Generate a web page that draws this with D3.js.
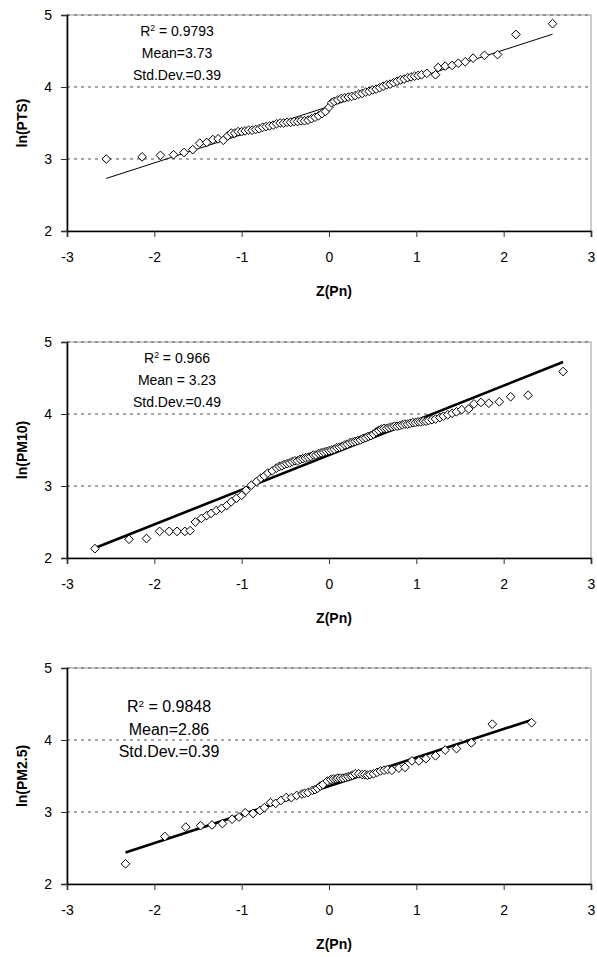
<!DOCTYPE html>
<html>
<head>
<meta charset="utf-8">
<script src="https://cdn.jsdelivr.net/npm/d3@7/dist/d3.min.js"></script>
<style>
  html, body { margin: 0; padding: 0; background: #fff; }
  svg { display: block; font-family: "Liberation Sans", Arial, sans-serif; }
</style>
</head>
<body>
<svg id="chart" width="597" height="957"></svg>
<script>
// ---------- data ----------
const xTicks = [-3, -2, -1, 0, 1, 2, 3];
const yTicks = [2, 3, 4, 5];
const xTitle = "Z(Pn)";
const yTitles = ["ln(PTS)", "ln(PM10)", "ln(PM2.5)"];

const ptsZ = [-2.55, -2.14, -1.93, -1.78, -1.66, -1.56, -1.48, -1.40, -1.33, -1.27, -1.21, -1.16, -1.12,
  -1.08, -1.04, -1.00, -0.96, -0.92, -0.88, -0.84, -0.80, -0.76, -0.72, -0.68, -0.64, -0.60, -0.56, -0.52, -0.48,
  -0.44, -0.40, -0.36, -0.32, -0.28, -0.24, -0.20, -0.16, -0.12, -0.08, -0.04,
  0.00, 0.03, 0.06, 0.10, 0.14, 0.18, 0.22, 0.26, 0.30, 0.34, 0.38, 0.42, 0.46, 0.50, 0.54, 0.58, 0.62, 0.66,
  0.70, 0.74, 0.78, 0.82, 0.86, 0.90, 0.94, 0.98, 1.02, 1.06,
  1.12, 1.22, 1.25, 1.33, 1.41, 1.48, 1.56, 1.65, 1.78, 1.93, 2.14, 2.56];
const ptsV = [3.00, 3.03, 3.05, 3.06, 3.09, 3.13, 3.22, 3.23, 3.27, 3.28, 3.26, 3.32, 3.36,
  3.36, 3.38, 3.38, 3.39, 3.40, 3.40, 3.41, 3.42, 3.44, 3.45, 3.46, 3.47, 3.49, 3.50, 3.50, 3.51,
  3.51, 3.52, 3.52, 3.53, 3.53, 3.54, 3.56, 3.58, 3.60, 3.63, 3.66,
  3.72, 3.78, 3.80, 3.82, 3.84, 3.85, 3.86, 3.87, 3.88, 3.90, 3.91, 3.93, 3.94, 3.96, 3.97, 3.99, 4.01, 4.03,
  4.04, 4.06, 4.08, 4.10, 4.11, 4.13, 4.14, 4.15, 4.16, 4.17,
  4.19, 4.17, 4.27, 4.29, 4.30, 4.33, 4.35, 4.40, 4.44, 4.45, 4.73, 4.88];

const pm10Z = [-2.68, -2.29, -2.09, -1.94, -1.83, -1.74, -1.65, -1.59, -1.53, -1.46, -1.40, -1.35, -1.29, -1.23,
  -1.17, -1.12, -1.06, -1.00, -0.95, -0.89, -0.83, -0.78, -0.74, -0.70, -0.65, -0.60,
  -0.57, -0.54, -0.51, -0.48, -0.45, -0.42, -0.39, -0.36, -0.33, -0.30, -0.27, -0.24, -0.21, -0.18, -0.15, -0.12,
  -0.09, -0.06, -0.03, 0.00, 0.03, 0.06, 0.09, 0.12, 0.15, 0.18, 0.21, 0.24, 0.27, 0.30, 0.33, 0.36, 0.39, 0.42,
  0.45, 0.48, 0.51, 0.54, 0.57, 0.60, 0.63, 0.66, 0.69, 0.72, 0.75, 0.78, 0.81, 0.84, 0.87, 0.90, 0.93, 0.96,
  0.99, 1.02, 1.05, 1.08, 1.11, 1.14, 1.18,
  1.22, 1.27, 1.31, 1.36, 1.41, 1.46, 1.52, 1.60, 1.66, 1.74, 1.83, 1.95, 2.08, 2.28, 2.68];
const pm10V = [2.13, 2.26, 2.27, 2.37, 2.37, 2.37, 2.37, 2.38, 2.50, 2.55, 2.59, 2.62, 2.66, 2.69,
  2.73, 2.78, 2.83, 2.87, 2.94, 3.01, 3.06, 3.11, 3.14, 3.18, 3.21, 3.25,
  3.27, 3.28, 3.30, 3.31, 3.32, 3.34, 3.35, 3.35, 3.37, 3.38, 3.39, 3.40, 3.41, 3.43, 3.43, 3.45,
  3.46, 3.47, 3.48, 3.49, 3.50, 3.51, 3.53, 3.54, 3.55, 3.57, 3.58, 3.60, 3.61, 3.62, 3.63, 3.64, 3.66, 3.67,
  3.69, 3.70, 3.72, 3.75, 3.77, 3.79, 3.80, 3.80, 3.81, 3.82, 3.83, 3.83, 3.84, 3.85, 3.86, 3.86, 3.87, 3.88,
  3.88, 3.89, 3.89, 3.90, 3.90, 3.91, 3.92,
  3.93, 3.95, 3.97, 3.99, 4.01, 4.03, 4.06, 4.07, 4.14, 4.16, 4.15, 4.17, 4.24, 4.26, 4.59];

const pm25Z = [-2.33, -1.88, -1.64, -1.47, -1.34, -1.22, -1.11, -1.03, -0.96, -0.87, -0.79, -0.74, -0.67, -0.61,
  -0.55, -0.49, -0.43, -0.37, -0.31, -0.28, -0.24, -0.19, -0.16, -0.13, -0.10, -0.07, -0.02, 0.02, 0.05, 0.08,
  0.10, 0.13, 0.16, 0.19, 0.22, 0.25, 0.27, 0.30, 0.34, 0.38, 0.41, 0.44, 0.47, 0.51, 0.55, 0.59, 0.63, 0.67,
  0.72, 0.80, 0.87, 0.95, 1.03, 1.11, 1.22, 1.33, 1.46, 1.63, 1.87, 2.32];
const pm25V = [2.28, 2.66, 2.79, 2.81, 2.82, 2.84, 2.90, 2.93, 2.99, 2.98, 3.02, 3.06, 3.13, 3.12,
  3.16, 3.20, 3.20, 3.23, 3.25, 3.26, 3.27, 3.30, 3.31, 3.33, 3.36, 3.38, 3.43, 3.45, 3.46, 3.46,
  3.47, 3.47, 3.47, 3.48, 3.49, 3.50, 3.51, 3.53, 3.53, 3.52, 3.52, 3.51, 3.52, 3.53, 3.55, 3.57, 3.58, 3.59,
  3.58, 3.61, 3.62, 3.71, 3.71, 3.74, 3.78, 3.86, 3.88, 3.96, 4.22, 4.24];

// fitted trend lines (value = intercept + slope * z)
const trendIntercept = [3.73, 3.43, 3.36];
const trendSlope = [0.392, 0.482, 0.396];

const r2Text = ["0.9793", "0.966", "0.9848"];
const meanText = ["Mean=3.73", "Mean = 3.23", "Mean=2.86"];
const stdText = ["Std.Dev.=0.39", "Std.Dev.=0.49", "Std.Dev.=0.39"];

// ---------- layout ----------
const panelTops = [15, 342, 668];
const plotH = 216;
const plotLeft = 67, plotRight = 591;
const lineWidths = [1, 2.6, 2.6];
const annoX = [177, 177, 169];
const annoFont = [14, 14, 16];
const annoStep = [22, 22, 22.5];
const annoFirst = [21, 21, 44];

const series = [[ptsZ, ptsV], [pm10Z, pm10V], [pm25Z, pm25V]];

const svg = d3.select("#chart");
const x = d3.scaleLinear().domain([-3, 3]).range([plotLeft, plotRight]);

series.forEach((s, i) => {
  const top = panelTops[i];
  const y = d3.scaleLinear().domain([2, 5]).range([top + plotH, top]);
  const g = svg.append("g");

  // plot border (light)
  g.append("rect")
    .attr("x", plotLeft).attr("y", top)
    .attr("width", plotRight - plotLeft).attr("height", plotH)
    .attr("fill", "none").attr("stroke", "#9a9a9a").attr("stroke-width", 1);

  // dashed gridlines
  g.selectAll("line.grid").data(yTicks.filter(t => t > 2)).enter().append("line")
    .attr("class", "grid")
    .attr("x1", plotLeft).attr("x2", plotRight)
    .attr("y1", d => y(d)).attr("y2", d => y(d))
    .attr("stroke", "#555").attr("stroke-width", 1.2)
    .attr("stroke-dasharray", "3,4");

  // trend line
  const zs = s[0];
  const zMin = d3.min(zs), zMax = d3.max(zs);
  g.append("line")
    .attr("x1", x(zMin)).attr("y1", y(trendIntercept[i] + trendSlope[i] * zMin))
    .attr("x2", x(zMax)).attr("y2", y(trendIntercept[i] + trendSlope[i] * zMax))
    .attr("stroke", "#000").attr("stroke-width", lineWidths[i]);

  // diamond markers
  const pts = zs.map((z, k) => ({ z: z, v: s[1][k] }));
  const sym = d3.symbol().type(d3.symbolDiamond2).size(48);
  g.selectAll("path.pt").data(pts).enter().append("path")
    .attr("class", "pt")
    .attr("d", sym)
    .attr("transform", d => `translate(${x(d.z)},${y(d.v)})`)
    .attr("fill", "#fff").attr("stroke", "#000").attr("stroke-width", 1);

  // axes
  const yAxis = d3.axisLeft(y).tickValues(yTicks).tickSize(6).tickPadding(9).tickFormat(d3.format("d"));
  const ya = g.append("g").attr("transform", `translate(${plotLeft},0)`).call(yAxis);
  const xAxis = d3.axisBottom(x).tickValues(xTicks).tickSize(6).tickPadding(15).tickFormat(d3.format("d"));
  const xa = g.append("g").attr("transform", `translate(0,${top + plotH})`).call(xAxis);
  [ya, xa].forEach(a => {
    a.select(".domain").attr("stroke", "#000").attr("stroke-width", 1.6);
    a.selectAll(".tick line").attr("stroke", "#333").attr("stroke-width", 1);
    a.selectAll(".tick text").attr("fill", "#000").style("font-size", "14px")
      .style("font-family", "'Liberation Sans', Arial, sans-serif");
  });
  xa.selectAll(".tick text").text(d => d < 0 ? "-" + Math.abs(d) : String(d));

  // axis titles
  g.append("text")
    .attr("x", (plotLeft + plotRight) / 2 + 5).attr("y", top + plotH + 65)
    .attr("text-anchor", "middle").style("font-weight", "bold").style("font-size", "14px")
    .text(xTitle);
  g.append("text")
    .attr("transform", `translate(${22},${top + plotH / 2}) rotate(-90)`)
    .attr("text-anchor", "middle").attr("dominant-baseline", "central")
    .style("font-weight", "bold").style("font-size", "14px")
    .text(yTitles[i]);

  // annotation
  const a = g.append("g").style("font-size", annoFont[i] + "px");
  const t1 = a.append("text").attr("x", annoX[i]).attr("y", top + annoFirst[i]).attr("text-anchor", "middle");
  t1.append("tspan").text("R");
  t1.append("tspan").attr("dy", -5).style("font-size", (annoFont[i] * 0.62) + "px").text("2");
  t1.append("tspan").attr("dy", 5).text(" = " + r2Text[i]);
  a.append("text").attr("x", annoX[i]).attr("y", top + annoFirst[i] + annoStep[i])
    .attr("text-anchor", "middle").text(meanText[i]);
  a.append("text").attr("x", annoX[i]).attr("y", top + annoFirst[i] + 2 * annoStep[i])
    .attr("text-anchor", "middle").text(stdText[i]);
});
</script>
</body>
</html>
